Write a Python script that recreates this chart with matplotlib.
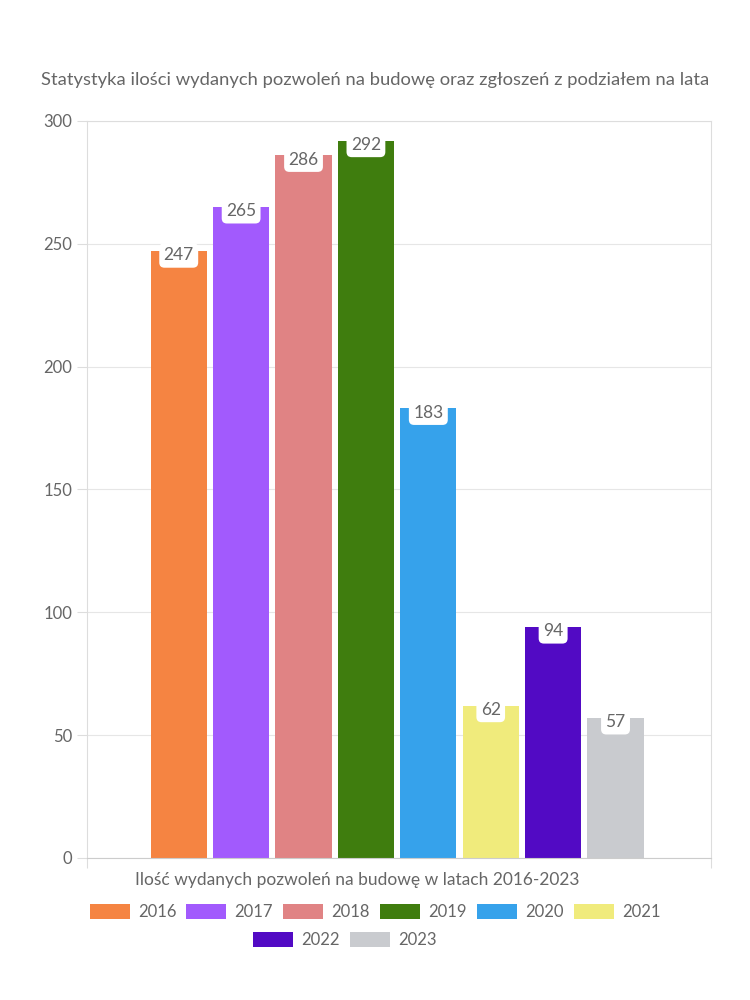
import matplotlib
matplotlib.use("Agg")
import matplotlib.pyplot as plt
from matplotlib.patches import Patch

years = ["2016", "2017", "2018", "2019", "2020", "2021", "2022", "2023"]
permits = [247, 265, 286, 292, 183, 62, 94, 57]
colors = ["#F58442", "#A25AFD", "#E08384", "#3F7D0E", "#36A2EB", "#F0EB7C", "#520AC4", "#C9CBCF"]

title = "Statystyka ilości wydanych pozwoleń na budowę oraz zgłoszeń z podziałem na lata"
xlabel = "Ilość wydanych pozwoleń na budowę w latach 2016-2023"

plt.rcParams['font.family'] = ['Lato', 'DejaVu Sans']
txt = "#666666"

fig = plt.figure(figsize=(7.5, 10), dpi=100)
ax = fig.add_axes([0.116, 0.142, 0.832, 0.737])

x = list(range(len(years)))
bars = ax.bar(x, permits, width=0.9, color=colors, zorder=2)

for xi, v in zip(x, permits):
    ax.annotate(str(v), (xi, v), xytext=(0, -3), textcoords="offset points",
                ha="center", va="center", fontsize=12.5, color=txt, zorder=3,
                bbox=dict(boxstyle="round,pad=0.25,rounding_size=0.3", fc="white", ec="none"))

ax.set_ylim(0, 300)
ax.set_xlim(-1.47, 8.53)
ax.set_yticks([0, 50, 100, 150, 200, 250, 300])
ax.set_xticks([-1.47, 8.53])
ax.set_xticklabels(["", ""])
ax.tick_params(axis="y", labelsize=12, labelcolor=txt, color="#dddddd", length=7, width=0.8)
ax.tick_params(axis="x", color="#dddddd", length=7, width=0.8)
ax.grid(axis="y", color="#e6e6e6", linewidth=0.8, zorder=0)
for s in ax.spines.values():
    s.set_color("#dddddd")
    s.set_linewidth(0.8)
ax.spines["bottom"].set_color("#cccccc")

fig.text(0.5, 0.92, title, ha="center", va="center", fontsize=13.2, color=txt)
fig.text(0.476, 0.12, xlabel, ha="center", va="center", fontsize=12.5, color=txt)

handles = [Patch(facecolor=c, edgecolor="none") for c in colors]
opts = dict(frameon=False, fontsize=12, labelcolor=txt, handlelength=2.4, handleheight=1.0,
            columnspacing=0.6, handletextpad=0.5, borderpad=0)
fig.legend(handles[:6], years[:6], loc="center", bbox_to_anchor=(0.5, 0.088), ncol=6, **opts)
fig.legend(handles[6:], years[6:], loc="center", bbox_to_anchor=(0.46, 0.06), ncol=2, **opts)

fig.savefig("out.png", dpi=100, facecolor="white")
